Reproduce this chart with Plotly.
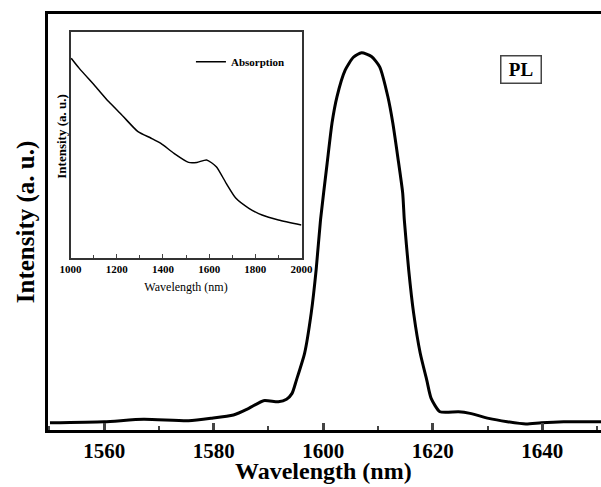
import plotly.graph_objects as go

# Main PL spectrum (wavelength nm, intensity a.u.)
pl_wavelength = [1550.1, 1560.0, 1567.2, 1575.4, 1579.5, 1583.6, 1586.4, 1589.1, 1591.8, 1593.3,
                 1594.3, 1595.1, 1596.6, 1597.8, 1598.7, 1599.5, 1600.7, 1601.6, 1602.5, 1604.0,
                 1605.5, 1607.0, 1608.8, 1610.3, 1611.8, 1612.7, 1613.6, 1614.5, 1614.8, 1615.6,
                 1616.5, 1617.7, 1618.9, 1619.7, 1621.3, 1624.7, 1626.8, 1630.2, 1633.6, 1637.0,
                 1639.8, 1643.9, 1648.6, 1652.0]
pl_intensity = [0.0175, 0.020, 0.0257, 0.0224, 0.0281, 0.0361, 0.0521, 0.0704, 0.068, 0.074,
                0.088, 0.120, 0.185, 0.281, 0.385, 0.505, 0.640, 0.738, 0.801, 0.865,
                0.896, 0.907, 0.898, 0.873, 0.801, 0.738, 0.657, 0.570, 0.505, 0.385,
                0.281, 0.185, 0.120, 0.076, 0.044, 0.044, 0.040, 0.028, 0.020, 0.0144,
                0.0175, 0.020, 0.020, 0.020]

# Inset absorption spectrum
abs_wavelength = [1003, 1038, 1109, 1165, 1222, 1292, 1349, 1391, 1448, 1511, 1547, 1589,
                  1631, 1674, 1716, 1772, 1829, 1900, 1999]
abs_intensity = [0.884, 0.839, 0.758, 0.692, 0.633, 0.559, 0.530, 0.507, 0.463, 0.423, 0.423,
                 0.434, 0.404, 0.330, 0.264, 0.220, 0.190, 0.168, 0.146]

main_ticks = [1560, 1580, 1600, 1620, 1640]
inset_ticks = [1000, 1200, 1400, 1600, 1800, 2000]

SERIF = "Liberation Serif"

W, H = 620, 487
L, T, B = 48, 14, 57
PX_PER_NM = 5.594
X0 = 1549.74
X1 = X0 + (W - L) / PX_PER_NM   # the original figure is cropped at the window's right edge

fig = go.Figure()
fig.add_trace(go.Scatter(x=pl_wavelength, y=pl_intensity, mode="lines",
                         line=dict(color="black", width=3, shape="spline", smoothing=0.6),
                         showlegend=False, xaxis="x", yaxis="y"))
fig.add_trace(go.Scatter(x=abs_wavelength, y=abs_intensity, mode="lines", name="Absorption",
                         line=dict(color="black", width=1.5, shape="spline", smoothing=0.6),
                         showlegend=True, xaxis="x2", yaxis="y2"))

pw = W - L          # plot width in px
ph = H - T - B      # plot height in px
def fx(px):  # page-x to paper fraction
    return (px - L) / pw
def fy(py):  # page-y to paper fraction
    return (H - B - py) / ph

fig.update_layout(
    width=W, height=H,
    margin=dict(l=L, r=0, t=T, b=B),
    paper_bgcolor="white", plot_bgcolor="white",
    font=dict(family=SERIF, color="black"),
    xaxis=dict(range=[X0, X1], tickvals=main_ticks, ticks="inside", ticklen=7, tickwidth=2.5,
               minor=dict(ticks="inside", ticklen=4, tickwidth=2, dtick=10, tick0=1550),
               showline=True, linewidth=3, linecolor="black", mirror=True, showgrid=False,
               zeroline=False,
               tickfont=dict(family=SERIF, size=21, color="black", weight="bold")),
    yaxis=dict(range=[0, 1], showticklabels=False, ticks="", showline=True, linewidth=3,
               linecolor="black", showgrid=False, zeroline=False,
               title=dict(text="<b>Intensity (a. u.)</b>", font=dict(family=SERIF, size=25), standoff=4)),
    xaxis2=dict(domain=[fx(71), fx(307)], anchor="y2", range=[1000, 2000], tickvals=inset_ticks,
                ticks="inside", ticklen=4, tickwidth=1.2,
                minor=dict(ticks="inside", ticklen=3, tickwidth=1, dtick=100, tick0=1000),
                showline=True, linewidth=1.5, linecolor="#333", mirror=True, showgrid=False,
                zeroline=False,
                tickfont=dict(family=SERIF, size=11, color="black", weight="bold"),
                title=dict(text="Wavelength (nm)", font=dict(family=SERIF, size=12), standoff=9)),
    yaxis2=dict(domain=[fy(258), fy(32)], anchor="x2", range=[0, 1], showticklabels=False, ticks="",
                showline=True, linewidth=1.5, linecolor="#333", mirror=True, showgrid=False,
                zeroline=False),
    legend=dict(x=fx(194), y=0.885, xanchor="left", yanchor="middle", bgcolor="rgba(0,0,0,0)",
                font=dict(family=SERIF, size=11, weight="bold"), itemwidth=30,
                tracegroupgap=0),
    annotations=[
        dict(xref="paper", yref="paper", x=fx(531.5), y=fy(70), xanchor="center",
             yanchor="middle", text="<b>PL</b>", width=35, height=22,
             showarrow=False, font=dict(family=SERIF, size=19, color="black"),
             bordercolor="#444", borderwidth=1.5, borderpad=2, bgcolor="white"),
        dict(xref="paper", yref="paper", x=fx(329.5), y=fy(486), xanchor="center",
             yanchor="bottom", text="<b>Wavelength (nm)</b>", showarrow=False,
             font=dict(family=SERIF, size=24, color="black")),
        dict(xref="paper", yref="paper", x=fx(61), y=fy(136), xanchor="center",
             yanchor="middle", text="<b>Intensity (a. u.)</b>", textangle=-90, showarrow=False,
             font=dict(family=SERIF, size=13, color="black")),
    ],
)

fig.write_html("out.html", config={"displayModeBar": False},
               post_script="document.body.style.margin='0';"
                           "document.documentElement.style.overflow='hidden';")
